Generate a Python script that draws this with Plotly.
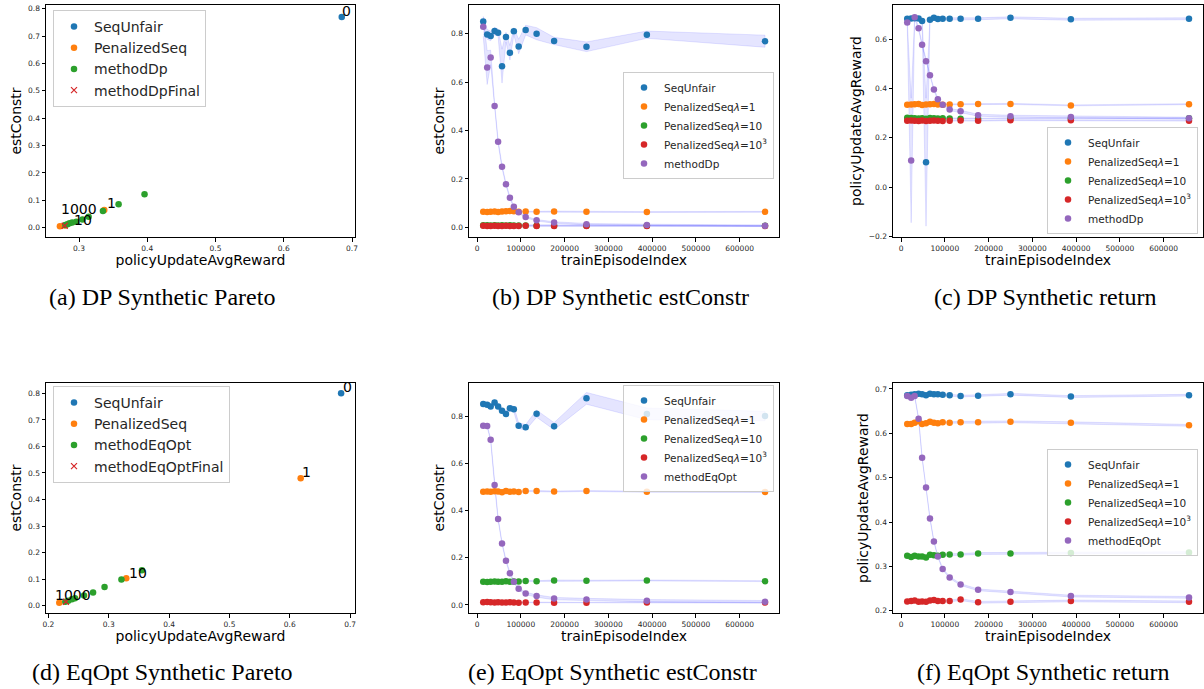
import plotly.graph_objects as go

# ---------------- data ----------------
episodes = [14000, 23000, 31000, 40000, 48000, 57000, 66000, 75000, 84000, 95000,
            111000, 136000, 176000, 250000, 388000, 658000]

# (a) DP Pareto
dp_par_seq_x = [0.685]
dp_par_seq_y = [0.770]
dp_par_pen_x = [0.337, 0.279, 0.272]
dp_par_pen_y = [0.065, 0.008, 0.005]
dp_par_method_x = [0.396, 0.358, 0.335, 0.314, 0.305, 0.296, 0.290, 0.286, 0.283, 0.280]
dp_par_method_y = [0.122, 0.086, 0.061, 0.040, 0.030, 0.022, 0.019, 0.016, 0.013, 0.010]
dp_par_final_x = [0.279]
dp_par_final_y = [0.007]
dp_par_labels = ["0", "1", "10", "1000"]
dp_par_label_x = [0.684, 0.3395, 0.2916, 0.272]
dp_par_label_y = [0.771, 0.068, 0.006, 0.046]

# (d) EqOpt Pareto
eq_par_seq_x = [0.685]
eq_par_seq_y = [0.800]
eq_par_pen_x = [0.618, 0.329, 0.218]
eq_par_pen_y = [0.480, 0.103, 0.011]
eq_par_method_x = [0.355, 0.321, 0.293, 0.274, 0.259, 0.244, 0.239, 0.233, 0.228]
eq_par_method_y = [0.134, 0.099, 0.070, 0.050, 0.038, 0.028, 0.024, 0.019, 0.015]
eq_par_final_x = [0.229]
eq_par_final_y = [0.015]
eq_par_labels = ["0", "1", "10", "1000"]
eq_par_label_x = [0.687, 0.619, 0.332, 0.209]
eq_par_label_y = [0.800, 0.480, 0.102, 0.019]

# (b) DP estConstr  (mean, std)
dp_c_seq = [0.850, 0.797, 0.791, 0.811, 0.804, 0.666, 0.786, 0.721, 0.810, 0.747, 0.815, 0.800, 0.770, 0.746, 0.796, 0.769]
dp_c_seq_sd = [0.022, 0.02, 0.02, 0.015, 0.015, 0.07, 0.02, 0.03, 0.015, 0.03, 0.02, 0.025, 0.015, 0.02, 0.015, 0.025]
dp_c_pen1 = [0.064, 0.063, 0.064, 0.065, 0.063, 0.065, 0.066, 0.067, 0.066, 0.064, 0.065, 0.064, 0.065, 0.064, 0.063, 0.064]
dp_c_pen10 = [0.009, 0.009, 0.008, 0.009, 0.008, 0.009, 0.008, 0.009, 0.008, 0.008, 0.008, 0.007, 0.007, 0.007, 0.007, 0.007]
dp_c_pen1000 = [0.006, 0.005, 0.005, 0.006, 0.005, 0.005, 0.006, 0.005, 0.005, 0.005, 0.006, 0.005, 0.005, 0.005, 0.005, 0.005]
dp_c_method = [0.829, 0.660, 0.702, 0.501, 0.354, 0.250, 0.178, 0.122, 0.085, 0.062, 0.043, 0.029, 0.020, 0.013, 0.010, 0.006]
dp_c_method_sd = [0.04, 0.07, 0.03, 0.01, 0.008, 0.006, 0.005, 0.005, 0.004, 0.004, 0.003, 0.003, 0.003, 0.003, 0.003, 0.003]
small_sd = [0.002] * 16

# (c) DP return
dp_r_seq = [0.684, 0.685, 0.686, 0.685, 0.675, 0.101, 0.680, 0.688, 0.683, 0.684, 0.684, 0.684, 0.684, 0.688, 0.682, 0.684]
dp_r_seq_sd = [0.004, 0.004, 0.004, 0.004, 0.006, 0.26, 0.006, 0.004, 0.004, 0.004, 0.004, 0.004, 0.004, 0.004, 0.004, 0.004]
dp_r_pen1 = [0.335, 0.336, 0.337, 0.338, 0.334, 0.336, 0.337, 0.338, 0.336, 0.335, 0.336, 0.337, 0.338, 0.338, 0.332, 0.337]
dp_r_pen10 = [0.282, 0.281, 0.280, 0.279, 0.280, 0.278, 0.281, 0.280, 0.279, 0.280, 0.279, 0.278, 0.278, 0.279, 0.279, 0.280]
dp_r_pen1000 = [0.270, 0.271, 0.270, 0.269, 0.271, 0.268, 0.270, 0.271, 0.270, 0.269, 0.270, 0.271, 0.270, 0.272, 0.272, 0.270]
dp_r_method = [0.669, 0.108, 0.690, 0.645, 0.578, 0.511, 0.454, 0.397, 0.357, 0.335, 0.315, 0.308, 0.292, 0.288, 0.285, 0.280]
dp_r_method_sd = [0.01, 0.253, 0.006, 0.006, 0.006, 0.006, 0.005, 0.005, 0.005, 0.004, 0.004, 0.004, 0.004, 0.004, 0.004, 0.004]

# (e) EqOpt estConstr
eq_c_seq = [0.852, 0.849, 0.841, 0.858, 0.841, 0.823, 0.810, 0.834, 0.830, 0.760, 0.753, 0.811, 0.758, 0.876, 0.810, 0.801]
eq_c_seq_sd = [0.01, 0.01, 0.01, 0.012, 0.012, 0.012, 0.012, 0.012, 0.012, 0.012, 0.012, 0.015, 0.015, 0.025, 0.025, 0.02]
eq_c_pen1 = [0.480, 0.481, 0.480, 0.482, 0.481, 0.478, 0.483, 0.480, 0.481, 0.479, 0.483, 0.483, 0.481, 0.483, 0.480, 0.479]
eq_c_pen10 = [0.099, 0.097, 0.099, 0.100, 0.098, 0.098, 0.101, 0.099, 0.100, 0.100, 0.102, 0.101, 0.104, 0.103, 0.104, 0.101]
eq_c_pen1000 = [0.012, 0.013, 0.012, 0.011, 0.012, 0.010, 0.011, 0.012, 0.011, 0.009, 0.010, 0.010, 0.009, 0.009, 0.011, 0.010]
eq_c_method = [0.760, 0.759, 0.700, 0.509, 0.365, 0.261, 0.188, 0.134, 0.099, 0.069, 0.049, 0.038, 0.027, 0.023, 0.018, 0.014]
eq_c_method_sd = [0.005] * 16

# (f) EqOpt return
eq_r_seq = [0.686, 0.687, 0.688, 0.689, 0.688, 0.686, 0.689, 0.688, 0.688, 0.687, 0.686, 0.684, 0.685, 0.688, 0.683, 0.686]
eq_r_pen1 = [0.621, 0.621, 0.624, 0.627, 0.621, 0.623, 0.626, 0.624, 0.623, 0.625, 0.624, 0.625, 0.625, 0.626, 0.624, 0.618]
eq_r_pen10 = [0.324, 0.321, 0.324, 0.322, 0.322, 0.320, 0.326, 0.325, 0.324, 0.326, 0.327, 0.327, 0.329, 0.329, 0.330, 0.331]
eq_r_pen1000 = [0.221, 0.222, 0.223, 0.220, 0.221, 0.220, 0.223, 0.224, 0.222, 0.222, 0.222, 0.225, 0.219, 0.220, 0.222, 0.220]
eq_r_method = [0.684, 0.680, 0.684, 0.633, 0.545, 0.478, 0.408, 0.356, 0.322, 0.294, 0.275, 0.259, 0.247, 0.242, 0.233, 0.230]

captions = ["(a) DP Synthetic Pareto", "(b) DP Synthetic estConstr", "(c) DP Synthetic return",
            "(d) EqOpt Synthetic Pareto", "(e) EqOpt Synthetic estConstr", "(f) EqOpt Synthetic return"]

# ---------------- styling ----------------
W, H = 1204, 689
C_BLUE, C_ORANGE, C_GREEN, C_RED, C_PURPLE = '#1f77b4', '#ff7f0e', '#2ca02c', '#d62728', '#9467bd'
BAND = 'rgba(0,0,255,0.1)'
FONT = 'DejaVu Sans'
MS = 6.5

fig = go.Figure()


def dom_x(l, r):
    return [l / W, r / W]


def dom_y(t, b):
    return [1 - b / H, 1 - t / H]


def axref(i):
    return ('x', 'y') if i == 1 else (f'x{i}', f'y{i}')


def add_pareto(i, seq, pen, meth, fin, method_name, labels, legend):
    xa, ya = axref(i)
    items = [("SeqUnfair", seq, C_BLUE, 'circle'), ("PenalizedSeq", pen, C_ORANGE, 'circle'),
             (method_name, meth, C_GREEN, 'circle'), (method_name + "Final", fin, C_RED, 'x-thin')]
    for name, (xs, ys), col, sym in items:
        if sym == 'circle':
            mk = dict(color=col, size=MS, symbol=sym)
        else:
            mk = dict(color=col, size=6, symbol=sym, line=dict(color=col, width=1.2))
        fig.add_trace(go.Scatter(x=xs, y=ys, mode='markers', marker=mk, name=name,
                                 legend=legend, xaxis=xa, yaxis=ya))
    for t, x, y in zip(*labels):
        fig.add_annotation(x=x, y=y, xref=xa, yref=ya, text=t, showarrow=False,
                           xanchor='left', yanchor='bottom', yshift=-4, xshift=-1,
                           font=dict(family=FONT, size=14, color='black'))


def add_time(i, series, legend):
    xa, ya = axref(i)
    for name, m, s, col in series:
        up = [a + b for a, b in zip(m, s)]
        lo = [a - b for a, b in zip(m, s)]
        fig.add_trace(go.Scatter(x=episodes + episodes[::-1], y=up + lo[::-1], mode='lines',
                                 fill='toself', fillcolor=BAND, line=dict(color=BAND, width=1),
                                 hoverinfo='skip', showlegend=False, xaxis=xa, yaxis=ya))
    for name, m, s, col in series:
        fig.add_trace(go.Scatter(x=episodes, y=m, mode='markers', marker=dict(color=col, size=MS),
                                 name=name, legend=legend, xaxis=xa, yaxis=ya))


lam1 = "PenalizedSeq<i>λ</i>=1"
lam10 = "PenalizedSeq<i>λ</i>=10"
lam1000 = "PenalizedSeq<i>λ</i>=10<sup>3</sup>"

add_pareto(1, (dp_par_seq_x, dp_par_seq_y), (dp_par_pen_x, dp_par_pen_y),
           (dp_par_method_x, dp_par_method_y), (dp_par_final_x, dp_par_final_y), "methodDp",
           (dp_par_labels, dp_par_label_x, dp_par_label_y), 'legend')
add_time(2, [("SeqUnfair", dp_c_seq, dp_c_seq_sd, C_BLUE), (lam1, dp_c_pen1, small_sd, C_ORANGE),
             (lam10, dp_c_pen10, small_sd, C_GREEN), (lam1000, dp_c_pen1000, small_sd, C_RED),
             ("methodDp", dp_c_method, dp_c_method_sd, C_PURPLE)], 'legend2')
add_time(3, [("SeqUnfair", dp_r_seq, dp_r_seq_sd, C_BLUE), (lam1, dp_r_pen1, small_sd, C_ORANGE),
             (lam10, dp_r_pen10, small_sd, C_GREEN), (lam1000, dp_r_pen1000, small_sd, C_RED),
             ("methodDp", dp_r_method, dp_r_method_sd, C_PURPLE)], 'legend3')
add_pareto(4, (eq_par_seq_x, eq_par_seq_y), (eq_par_pen_x, eq_par_pen_y),
           (eq_par_method_x, eq_par_method_y), (eq_par_final_x, eq_par_final_y), "methodEqOpt",
           (eq_par_labels, eq_par_label_x, eq_par_label_y), 'legend4')
add_time(5, [("SeqUnfair", eq_c_seq, eq_c_seq_sd, C_BLUE), (lam1, eq_c_pen1, small_sd, C_ORANGE),
             (lam10, eq_c_pen10, small_sd, C_GREEN), (lam1000, eq_c_pen1000, small_sd, C_RED),
             ("methodEqOpt", eq_c_method, eq_c_method_sd, C_PURPLE)], 'legend5')
add_time(6, [("SeqUnfair", eq_r_seq, small_sd, C_BLUE), (lam1, eq_r_pen1, small_sd, C_ORANGE),
             (lam10, eq_r_pen10, small_sd, C_GREEN), (lam1000, eq_r_pen1000, small_sd, C_RED),
             ("methodEqOpt", eq_r_method, small_sd, C_PURPLE)], 'legend6')

axis_common = dict(showline=True, linecolor='black', linewidth=1, mirror=True, ticks='outside',
                   ticklen=3.5, tickwidth=0.8, tickcolor='black', showgrid=False, zeroline=False,
                   automargin=False, tickfont=dict(family=FONT, size=7.5, color='#262626'))


def title(t, standoff):
    return dict(text=t, standoff=standoff, font=dict(family=FONT, size=14, color='black'))


panels = {
    1: dict(xd=dom_x(46, 355), yd=dom_y(5, 237), xr=[0.2516, 0.7044], yr=[-0.034, 0.8135],
            xt='policyUpdateAvgReward', yt='estConstr', xdt=0.1, ydt=0.1, xf='.1f', yf='.1f'),
    2: dict(xd=dom_x(469, 779), yd=dom_y(5, 237), xr=[-18500, 690000], yr=[-0.040, 0.9186],
            xt='trainEpisodeIndex', yt='estConstr', xdt=100000, ydt=0.2, xf='d', yf='.1f'),
    3: dict(xd=dom_x(893, 1203), yd=dom_y(5, 237), xr=[-18500, 690000], yr=[-0.203, 0.74],
            xt='trainEpisodeIndex', yt='policyUpdateAvgReward', xdt=100000, ydt=0.2, xf='d', yf='.1f'),
    4: dict(xd=dom_x(46, 355), yd=dom_y(383, 613), xr=[0.196, 0.708], yr=[-0.0275, 0.839],
            xt='policyUpdateAvgReward', yt='estConstr', xdt=0.1, ydt=0.1, xf='.1f', yf='.1f'),
    5: dict(xd=dom_x(469, 779), yd=dom_y(383, 613), xr=[-18500, 690000], yr=[-0.034, 0.941],
            xt='trainEpisodeIndex', yt='estConstr', xdt=100000, ydt=0.2, xf='d', yf='.1f'),
    6: dict(xd=dom_x(893, 1203), yd=dom_y(383, 613), xr=[-18500, 690000], yr=[0.1948, 0.7135],
            xt='trainEpisodeIndex', yt='policyUpdateAvgReward', xdt=100000, ydt=0.1, xf='d', yf='.1f'),
}

layout = {}
for i, p in panels.items():
    xk = 'xaxis' if i == 1 else f'xaxis{i}'
    yk = 'yaxis' if i == 1 else f'yaxis{i}'
    xa, ya = axref(i)
    layout[xk] = dict(axis_common, domain=p['xd'], range=p['xr'], anchor=ya, dtick=p['xdt'],
                      tick0=0, tickformat=p['xf'], title=title(p['xt'], 3))
    layout[yk] = dict(axis_common, domain=p['yd'], range=p['yr'], anchor=xa, dtick=p['ydt'],
                      tick0=0, tickformat=p['yf'], title=title(p['yt'], 3))

leg_common = dict(bgcolor='rgba(255,255,255,0.8)', bordercolor='#cccccc', borderwidth=1,
                  itemwidth=30, tracegroupgap=0)
layout['legend'] = dict(leg_common, x=53 / W, y=1 - 10 / H, xanchor='left', yanchor='top',
                        font=dict(family=FONT, size=14, color='#262626'))
layout['legend4'] = dict(leg_common, x=53 / W, y=1 - 386 / H, xanchor='left', yanchor='top',
                         font=dict(family=FONT, size=14, color='#262626'))
for name, rx, ty, anc in [('legend2', 774, 72, 'top'), ('legend3', 1198, 234, 'bottom'),
                          ('legend5', 774, 385, 'top'), ('legend6', 1198, 449, 'top')]:
    layout[name] = dict(leg_common, x=rx / W, y=1 - ty / H, xanchor='right', yanchor=anc,
                        font=dict(family=FONT, size=10.5, color='#262626'))

fig.update_layout(width=W, height=H, margin=dict(l=0, r=0, t=0, b=0, autoexpand=False),
                  paper_bgcolor='white', plot_bgcolor='white', showlegend=True, **layout)

cap_pos = [(162, 297), (620, 297), (1045, 297), (162, 672), (612, 672), (1043, 672)]
for txt, (cx, cy) in zip(captions, cap_pos):
    fig.add_annotation(x=cx / W, y=1 - cy / H, xref='paper', yref='paper', text=txt, showarrow=False,
                       xanchor='center', yanchor='middle',
                       font=dict(family='Liberation Serif', size=24, color='black'))

fig.write_html("out.html", config={'displayModeBar': False},
               post_script="document.body.style.margin='0px';document.body.style.overflow='hidden';")
